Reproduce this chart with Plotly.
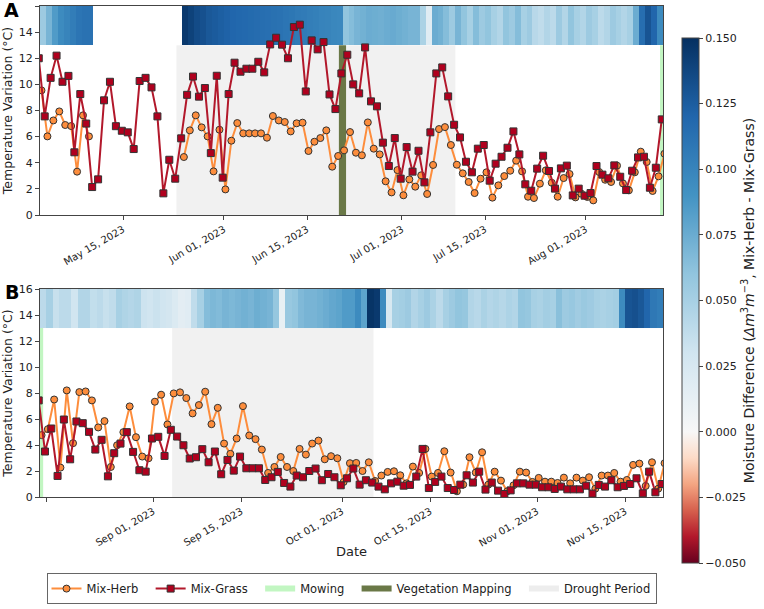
import pandas as pd
import plotly.graph_objects as go

# ---------------- Panel A (May - Aug 2023) ----------------
a_grass = [12.0, 7.55, 10.5, 12.2, 10.2, 10.65, 4.8, 9.26, 7.0, 2.14,
           2.73, 8.78, 10.2, 6.8, 6.45, 6.33, 5.05, 10.26, 10.5, 9.77,
           7.55, 1.66, 4.23, 2.78, 5.87, 9.2, 10.6, 9.06, 9.72, 4.74,
           10.66, 2.86, 9.26, 11.66, 10.97, 11.2, 11.2, 11.73, 10.92, 13.06,
           13.57, 13.04, 12.0, 14.39, 14.57, 9.46, 13.37, 12.68, 13.24, 9.23,
           8.11, 10.84, 12.27, 10.0, 9.31, 12.83, 8.7, 8.32, 5.54, 3.75,
           5.89, 2.78, 5.2, 3.32, 4.92, 2.5, 6.33, 10.84, 11.3, 9.08,
           6.91, 5.94, 4.08, 3.27, 5.08, 5.36, 2.63, 3.93, 4.46, 5.15,
           6.4, 4.64, 2.35, 1.86, 3.55, 4.54, 3.37, 2.02, 3.57, 3.78,
           1.5, 2.02, 1.48, 1.68, 3.75, 3.09, 2.81, 3.8, 2.93, 1.91,
           3.39, 4.41, 4.46, 2.09, 3.62, 7.32]
a_herb = ([9.54, 6.02, 7.24, 7.93, 6.89, 6.81, 3.32, 7.63, 6.02] + [None] * 15 +
          [4.44, 6.48, 7.63, 6.71, 6.02, 3.34, 6.53, 1.96, 5.69, 7.04,
           6.25, 6.25, 6.25, 6.25, 5.92, 7.58, 7.24, 7.12, 6.40, 7.02,
           7.07, 4.90, 5.61, 5.89, 6.48, 3.70, 4.52, 4.95, 6.35,
           4.77, 4.57, 7.09, 5.08, 4.64, 2.58, 1.73, 3.44, 1.51, 2.73,
           2.17, 3.04, 1.61, 3.83, 6.58, 6.73, 5.36, 3.85, 3.19, 2.53,
           1.68, 2.78, 3.27, 1.33, 2.27, 2.98, 3.39, 4.16, 3.34, 1.40,
           1.30, 2.40, 3.42, 2.47, 1.40, 2.83, 3.14, 1.35, 1.63, 1.38,
           1.12, 3.29, 2.70, 2.53, 3.78, 2.42, 1.89, 3.27, 4.85, 4.06,
           1.84, 2.96, 4.69])
a_moist = ([0.055, 0.07, 0.085, 0.095, 0.1, 0.105, 0.11, 0.112, 0.112] + [None] * 15 +
           [0.145, 0.14, 0.135, 0.132, 0.128, 0.126, 0.124, 0.122, 0.12, 0.119,
            0.118, 0.117, 0.116, 0.115, 0.114, 0.113, 0.112, 0.11, 0.109, 0.107,
            0.106, 0.104, 0.103, 0.101, 0.1, 0.098, 0.097,
            0.06, 0.065, 0.07, 0.072, 0.075, 0.074, 0.073, 0.075, 0.076, 0.074,
            0.072, 0.07, 0.07,
            0.048, 0.018, 0.075, 0.072,
            0.065, 0.055, 0.07, 0.06, 0.05, 0.065, 0.055, 0.06, 0.05, 0.045,
            0.06, 0.055, 0.065, 0.05, 0.055,
            0.042, 0.038, 0.045, 0.04,
            0.055, 0.045, 0.06, 0.05, 0.045, 0.055, 0.05, 0.04, 0.045, 0.055,
            0.05, 0.045, 0.05,
            0.075, 0.115, 0.13, 0.12, 0.095])

# ---------------- Panel B (Aug - Nov 2023) ----------------
b_grass = [7.43, 3.5, 5.27, 1.62, 5.96, 2.9, 5.81, 5.68, 5.01, 3.65,
           4.4, 1.59, 3.37, 4.11, 4.99, 3.47, 2.06, 1.95, 4.5, 4.63,
           3.16, 5.17, 4.65, 3.98, 2.96, 3.06, 3.68, 2.67, 3.5, 1.75,
           2.85, 2.03, 3.11, 2.21, 2.21, 2.21, 1.31, 1.52, 1.93, 1.08,
           0.8, 1.65, 1.52, 2.0, 2.19, 1.29, 1.77, 1.52, 0.9, 1.44,
           2.19, 0.95, 1.29, 1.11, 0.8, 0.59, 1.05, 1.18, 0.87, 0.93,
           1.57, 3.7, 0.69, 1.16, 1.57, 0.69, 0.54, 0.95, 1.67, 1.11,
           1.95, 0.57, 1.11, 0.49, 0.23, 0.51, 1.05, 1.05, 0.95, 0.95,
           0.75, 0.75, 0.62, 0.8, 0.59, 0.59, 0.59, 0.87, 0.26, 0.93,
           0.8, 1.29, 0.75, 0.85, 1.0, 1.44, 0.28, 1.95, 0.36, 1.0]
b_herb = [4.76, 5.22, 7.5, 2.26, 8.2, 4.14, 8.07, 8.12, 7.43, 5.35,
          5.84, 2.31, 3.98, 4.99, 6.97, 4.6, 3.11, 2.98, 7.33, 7.87,
          5.58, 7.97, 8.05, 7.61, 6.43, 7.07, 8.1, 5.6, 6.86, 4.11,
          3.32, 4.5, 6.99, 4.73, 4.45, 3.65, 1.85, 2.31, 3.08, 2.31,
          2.0, 3.7, 3.26, 4.11, 4.34, 2.9, 3.14, 2.98, 1.16, 2.6,
          2.62, 2.0, 2.67, 1.23, 1.65, 1.93, 1.98, 1.67, 1.05, 2.34,
          1.85, 3.7, 1.57, 1.85, 3.52, 1.88, 0.44, 0.95, 3.06, 1.88,
          3.44, 0.95, 1.95, 1.26, 0.44, 0.9, 1.95, 1.88, 1.16, 1.47,
          1.18, 1.18, 1.08, 1.49, 1.05, 1.49, 1.26, 1.52, 0.64, 1.65,
          1.65, 1.85, 1.18, 1.31, 2.47, 2.57, 0.85, 2.67, 0.64, 2.6]
b_moist = [0.04, 0.05, 0.035, 0.04, 0.04, 0.03, 0.045, 0.045, 0.037, 0.04,
           0.035, 0.038, 0.05, 0.046, 0.044, 0.046, 0.032, 0.03, 0.033, 0.03,
           0.028, 0.022, 0.016, 0.018, 0.038, 0.05, 0.065, 0.068, 0.066, 0.07,
           0.068, 0.07, 0.072, 0.07, 0.074, 0.072, 0.07, 0.058, 0.012, 0.057,
           0.06, 0.067, 0.07, 0.07, 0.072, 0.075, 0.078, 0.08, 0.085, 0.085,
           0.095, 0.08, 0.148, 0.145, 0.095, 0.025, 0.05, 0.052, 0.055, 0.045,
           0.05, 0.055, 0.048, 0.04, 0.05, 0.055, 0.06, 0.058, 0.045, 0.042,
           0.048, 0.044, 0.046, 0.043, 0.047, 0.045, 0.06, 0.058, 0.05, 0.048,
           0.052, 0.05, 0.063, 0.055, 0.057, 0.053, 0.056, 0.054, 0.05, 0.048,
           0.05, 0.052, 0.095, 0.13, 0.132, 0.128, 0.12, 0.108, 0.105]

a_ticks = ["2023-05-15", "2023-06-01", "2023-06-15", "2023-07-01", "2023-07-15", "2023-08-01"]
a_ticklabels = ["May 15, 2023", "Jun 01, 2023", "Jun 15, 2023", "Jul 01, 2023", "Jul 15, 2023", "Aug 01, 2023"]
b_ticks = ["2023-08-15", "2023-09-01", "2023-09-15", "2023-10-01", "2023-10-15", "2023-11-01", "2023-11-15"]
b_ticklabels = ["", "Sep 01, 2023", "Sep 15, 2023", "Oct 01, 2023", "Oct 15, 2023", "Nov 01, 2023", "Nov 15, 2023"]

drought_a = ("2023-05-24", "2023-07-10")
drought_b = ("2023-09-04", "2023-10-06")
veg_mapping = ("2023-06-20 09:00", "2023-06-21 14:00")
mowing = ("2023-08-13 12:00", "2023-08-14 12:00")


def fmt(idx):
    return [d.strftime("%Y-%m-%d %H:%M") for d in idx]


a_grass_t = fmt(pd.date_range("2023-04-30 19:00", periods=len(a_grass), freq="D"))
a_herb_t = fmt(pd.date_range("2023-05-01 06:00", periods=len(a_herb), freq="D"))
a_edges = fmt(pd.date_range("2023-05-01", periods=len(a_moist) + 1, freq="D"))
b_grass_t = fmt(pd.date_range("2023-08-13 19:00", periods=len(b_grass), freq="D"))
b_herb_t = fmt(pd.date_range("2023-08-14 06:00", periods=len(b_herb), freq="D"))
b_edges = fmt(pd.date_range("2023-08-14", periods=len(b_moist) + 1, freq="D"))

HERB = "#fd8d3c"
GRASS = "#b2182b"
FONT = "DejaVu Sans"
MOW_C = "rgba(144,238,144,0.55)"
VEG_C = "#6a7847"
DRO_C = "rgba(215,215,215,0.35)"
PAD = "\u00a0\u00a0"

cscale = [[0, "#67001f"], [0.05, "#b2182b"], [0.10, "#d6604d"], [0.15, "#f4a582"],
          [0.20, "#fddbc7"], [0.25, "#f7f7f7"], [0.40, "#d1e5f0"], [0.55, "#92c5de"],
          [0.70, "#4393c3"], [0.85, "#2166ac"], [1.0, "#053061"]]

fig = go.Figure()

for xa, ya, edges, moist in (("x", "y", a_edges, a_moist), ("x2", "y2", b_edges, b_moist)):
    fig.add_trace(go.Heatmap(x=edges, y=[13, 16], z=[moist], coloraxis="coloraxis",
                             xaxis=xa, yaxis=ya, hoverongaps=False))

for xa, ya, ht, hv, gt, gv, show in (("x", "y", a_herb_t, a_herb, a_grass_t, a_grass, True),
                                     ("x2", "y2", b_herb_t, b_herb, b_grass_t, b_grass, False)):
    fig.add_trace(go.Scatter(x=ht, y=hv, mode="lines+markers", name="Mix-Herb" + PAD,
                             line=dict(color=HERB, width=2),
                             marker=dict(symbol="circle", size=7, color=HERB,
                                         line=dict(color="#333", width=1)),
                             xaxis=xa, yaxis=ya, showlegend=show, legendgroup="herb"))
    fig.add_trace(go.Scatter(x=gt, y=gv, mode="lines+markers", name="Mix-Grass" + PAD,
                             line=dict(color=GRASS, width=2),
                             marker=dict(symbol="square", size=7, color="#b0001e",
                                         line=dict(color="#333", width=1)),
                             xaxis=xa, yaxis=ya, showlegend=show, legendgroup="grass"))

for name, col in (("Mowing" + PAD, MOW_C), ("Vegetation Mapping" + PAD, VEG_C),
                  ("Drought Period", "rgba(225,225,225,0.6)")):
    fig.add_trace(go.Scatter(x=[None], y=[None], mode="none", fill="toself",
                             fillcolor=col, name=name, xaxis="x", yaxis="y"))

shapes = []
for (x0, x1), xr, yr in ((drought_a, "x", "y"), (drought_b, "x2", "y2")):
    shapes.append(dict(type="rect", xref=xr, yref=yr, x0=x0, x1=x1, y0=0, y1=13,
                       fillcolor=DRO_C, line=dict(width=0), layer="below"))
shapes.append(dict(type="rect", xref="x", yref="y", x0=veg_mapping[0], x1=veg_mapping[1],
                   y0=0, y1=13, fillcolor=VEG_C, line=dict(width=0), layer="below"))
for xr, yr in (("x", "y"), ("x2", "y2")):
    shapes.append(dict(type="rect", xref=xr, yref=yr, x0=mowing[0], x1=mowing[1],
                       y0=0, y1=13, fillcolor=MOW_C, line=dict(width=0), layer="below"))

axis_common = dict(showline=True, mirror=True, linecolor="#444", linewidth=1,
                   ticks="outside", ticklen=4, tickcolor="#444", showgrid=False, zeroline=False)
ytickfont = dict(size=11, color="#222", family=FONT)
xtickfont = dict(size=10, color="#222", family=FONT)

fig.update_layout(
    width=764, height=609,
    margin=dict(l=40, r=101, t=6, b=112, autoexpand=False),
    paper_bgcolor="white", plot_bgcolor="white",
    font=dict(family=FONT, color="#222"),
    shapes=shapes,
    xaxis=dict(domain=[0, 1], anchor="y", range=["2023-05-01", "2023-08-14"],
               tickvals=a_ticks, ticktext=a_ticklabels, tickangle=-30, tickfont=xtickfont,
               **axis_common),
    yaxis=dict(domain=[0.5743, 1], anchor="x", range=[0, 16], dtick=2, tickfont=ytickfont,
               title=dict(text="Temperature Variation (°C)", font=dict(size=12.5), standoff=3),
               **axis_common),
    xaxis2=dict(domain=[0, 1], anchor="y2", range=["2023-08-14", "2023-11-21"],
                tickvals=b_ticks, ticktext=b_ticklabels, tickangle=-30, tickfont=xtickfont,
                **axis_common),
    yaxis2=dict(domain=[0, 0.4236], anchor="x2", range=[0, 16], dtick=2, tickfont=ytickfont,
                title=dict(text="Temperature Variation (°C)", font=dict(size=12.5), standoff=3),
                **axis_common),
    coloraxis=dict(colorscale=cscale, cmin=-0.05, cmax=0.15,
                   colorbar=dict(x=1.0305, xanchor="left", y=0.4002, yanchor="middle",
                                 len=1.069, lenmode="fraction", thickness=17,
                                 xpad=0, ypad=0, outlinewidth=1, outlinecolor="#444",
                                 ticks="outside", ticklen=4, tickcolor="#444",
                                 tickvals=[-0.05, -0.025, 0, 0.025, 0.05, 0.075, 0.1, 0.125, 0.15],
                                 tickformat=".3f", tickfont=dict(size=11, family=FONT),
                                 title=dict(text="Moisture Difference (<i>Δm</i><sup>3</sup><i>m</i><sup>−3</sup>, Mix-Herb - Mix-Grass)",
                                            side="right", font=dict(size=14, family=FONT)))),
    legend=dict(orientation="h", x=0.5, xanchor="center", y=-0.155, yanchor="top",
                bordercolor="#666", borderwidth=1, font=dict(size=11.5, family=FONT),
                bgcolor="white"),
    annotations=[
        dict(text="<b>A</b>", xref="paper", yref="paper", x=-0.045, y=0.992,
             xanchor="center", yanchor="middle", showarrow=False, font=dict(size=19, family=FONT, color="black")),
        dict(text="<b>B</b>", xref="paper", yref="paper", x=-0.045, y=0.418,
             xanchor="center", yanchor="middle", showarrow=False, font=dict(size=19, family=FONT, color="black")),
        dict(text="Date", xref="paper", yref="paper", x=0.5, y=-0.112,
             xanchor="center", yanchor="middle", showarrow=False, font=dict(size=13, family=FONT, color="#222")),
    ],
)

fig.write_html("out.html")
